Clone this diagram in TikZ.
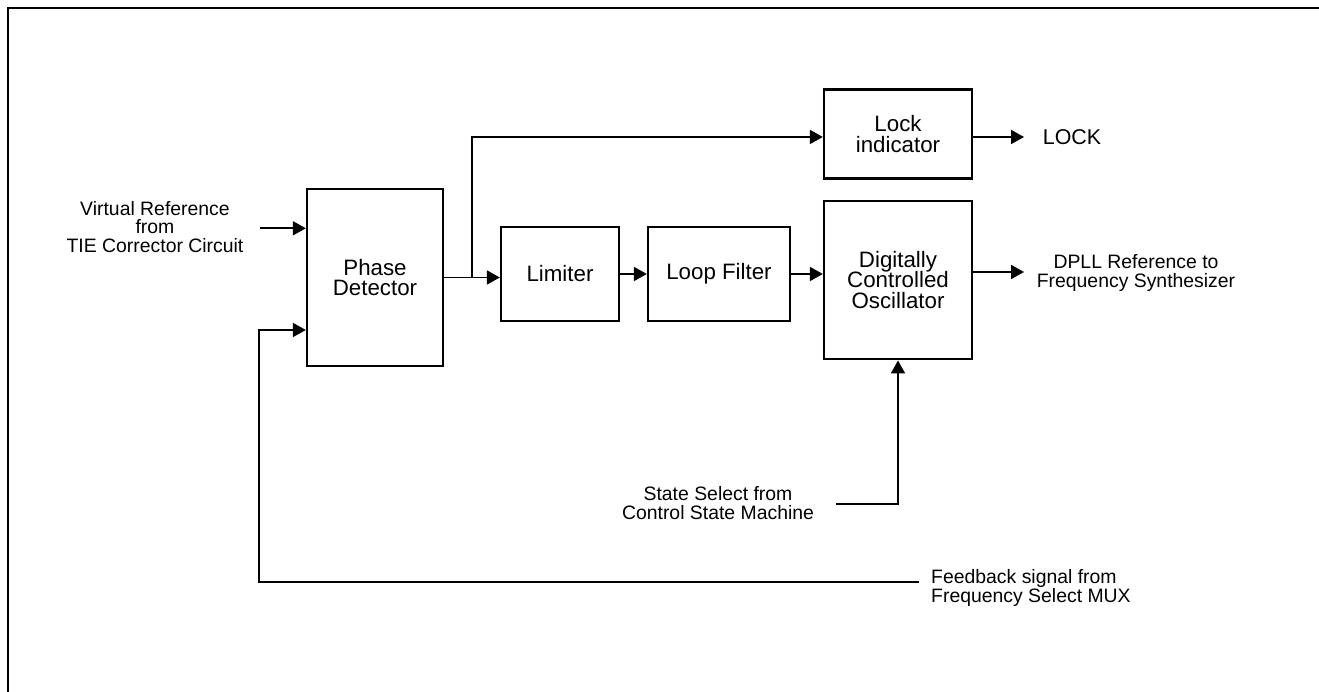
\documentclass[tikz,border=0pt]{standalone}
\usepackage{fontspec}
\setmainfont{Liberation Sans}
\usetikzlibrary{arrows.meta}
\tikzset{
  blk/.style={draw, line width=2.3pt, inner sep=0pt, align=center,
    font=\fontsize{22.3}{20.8}\selectfont},
  lbl/.style={inner sep=0pt, align=center, font=\fontsize{19.4}{18.3}\selectfont},
  wire/.style={line width=1.7pt},
  sig/.style={wire, -{Triangle[length=13pt,width=14pt]}},
}
\begin{document}
\begin{tikzpicture}[x=1pt,y=-1pt]
\useasboundingbox (0,0) rectangle (1319,692);
% frame
\draw[line width=2.2pt] (8,700) -- (8,8) -- (1330,8);
% blocks
\node[blk, minimum width=136pt, minimum height=177pt] (PD) at (375,277.5) {Phase\\Detector};
\node[blk, minimum width=118pt, minimum height=93.5pt] (LIM) at (560,274) {Limiter};
\node[blk, minimum width=142pt, minimum height=94pt] (LF) at (719,274) {Loop Filter};
\node[blk, minimum width=148pt, minimum height=89pt] (LCK) at (898,134) {Lock\\indicator};
\node[blk, minimum width=148pt, minimum height=158.6pt] (DCO) at (898,280) {Digitally\\Controlled\\Oscillator};
% labels
\node[lbl] (VR) at (155,227) {Virtual Reference\\from\\TIE Corrector Circuit};
\node[lbl, anchor=west, font=\fontsize{21.4}{20}\selectfont] (LOCK) at (1042.7,137) {LOCK};
\node[lbl] (DPLL) at (1136,273) {DPLL Reference to\\Frequency Synthesizer};
\node[lbl] (SS) at (718,503) {State Select from\\Control State Machine};
\node[lbl, align=left, anchor=west] (FB) at (931,588) {Feedback signal from\\Frequency Select MUX};
% coordinates
\coordinate (vin) at (260,228.3);
\coordinate (fbin) at (259,330);
\coordinate (fbend) at (919,581.7);
\coordinate (br) at (471.7,277.5);
\coordinate (lockend) at (1024,137);
\coordinate (dplend) at (1024,272);
\coordinate (ssst) at (836,504);
% connectors
\draw[sig] (vin) -- (vin -| PD.west);
\draw[sig] (fbend) -| (fbin) -- (fbin -| PD.west);
\draw[sig] (PD.east) -- (PD.east -| LIM.west);
\draw[sig] (br) |- (lockend -| LCK.west);
\draw[sig] (lockend -| LCK.east) -- (lockend);
\draw[sig] (LIM.east) -- (LF.west);
\draw[sig] (LF.east) -- (LF.east -| DCO.west);
\draw[sig] (dplend -| DCO.east) -- (dplend);
\draw[sig] (ssst) -| (DCO.south);
\end{tikzpicture}
\end{document}
